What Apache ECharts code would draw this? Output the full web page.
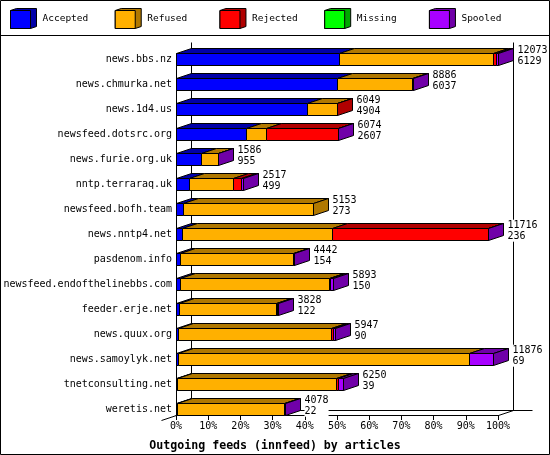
<!DOCTYPE html>
<html>
<head>
<meta charset="utf-8">
<script src="https://cdn.jsdelivr.net/npm/echarts@6/dist/echarts.min.js"></script>
<style>html,body{margin:0;padding:0;background:#fff}#c{width:550px;height:455px}</style>
</head>
<body>
<div id="c"></div>
<script>
const categories = ['news.bbs.nz','news.chmurka.net','news.1d4.us','newsfeed.dotsrc.org','news.furie.org.uk','nntp.terraraq.uk','newsfeed.bofh.team','news.nntp4.net','pasdenom.info','newsfeed.endofthelinebbs.com','feeder.erje.net','news.quux.org','news.samoylyk.net','tnetconsulting.net','weretis.net'];
const totals   = [12073, 8886, 6049, 6074, 1586, 2517, 5153, 11716, 4442, 5893, 3828, 5947, 11876, 6250, 4078];
const accepted = [6129, 6037, 4904, 2607, 955, 499, 273, 236, 154, 150, 122, 90, 69, 39, 22];
const refused  = [5767, 2823, 1120, 755, 620, 1650, 4880, 5624, 4220, 5599, 3616, 5722, 10916, 5948, 4040];
const rejected = [90, 0, 25, 2700, 0, 277, 0, 5849, 50, 40, 49, 62, 0, 100, 0];
const missing  = [0, 0, 0, 0, 0, 0, 0, 0, 0, 0, 0, 0, 0, 0, 0];
const spooled  = [87, 26, 0, 12, 11, 91, 0, 7, 18, 104, 41, 73, 891, 163, 16];
const seriesNames = ['Accepted','Refused','Rejected','Missing','Spooled'];
const xTicks = [0, 10, 20, 30, 40, 50, 60, 70, 80, 90, 100];
const titleText = 'Outgoing feeds (innfeed) by articles';

const frontColors = ['#0000ff','#ffb000','#ff0000','#00ff00','#a800ff'];
const darkColors  = ['#0000a8','#b07800','#b00000','#00a800','#7000a8'];
const FONT = 'DejaVu Sans Mono';
const DX = 15, DY = 5, HALF = 6;

const segs = [accepted, refused, rejected, missing, spooled];
const scaleMax = Math.max.apply(null, totals);
const lastIdx = categories.map((c, k) => { let l = -1; segs.forEach((s, i) => { if (s[k] > 0) l = i; }); return l; });
const segData = segs.map(() => []);
categories.forEach((c, k) => {
  let cum = 0;
  segs.forEach((s, i) => {
    const a = cum / scaleMax * 100; cum += s[k];
    const b = cum / scaleMax * 100;
    segData[i].push([k, a, b, lastIdx[k] === i ? 1 : 0, s[k]]);
  });
});
const labelData = categories.map((c, k) => [k, totals[k] / scaleMax * 100, totals[k], accepted[k]]);

function px(v) { return Math.round(v) + 0.5; }

function segRender(fc, dc) {
  return function (params, api) {
    const k = api.value(0), a = api.value(1), b = api.value(2), last = api.value(3);
    if (!(b > a)) return null;
    const p0 = api.coord([a, k]), p1 = api.coord([b, k]);
    const x0 = px(p0[0]), x1 = px(p1[0]);
    const yt = px(p0[1] - HALF), yb = px(p0[1] + HALF);
    const ch = [
      {type:'polygon', shape:{points:[[x0,yt],[x1,yt],[x1+DX,yt-DY],[x0+DX,yt-DY]]}, style:{fill:dc, stroke:'#000', lineWidth:1}},
      {type:'rect', shape:{x:x0, y:yt, width:x1-x0, height:yb-yt}, style:{fill:fc, stroke:'#000', lineWidth:1}}
    ];
    if (last) ch.push({type:'polygon', shape:{points:[[x1,yt],[x1+DX,yt-DY],[x1+DX,yb-DY],[x1,yb]]}, style:{fill:dc, stroke:'#000', lineWidth:1}});
    return {type:'group', children: ch};
  };
}

const series = seriesNames.map((n, i) => ({
  name: n, type: 'custom', z: 3, clip: false,
  encode: {x: [1, 2], y: 0},
  itemStyle: {color: frontColors[i]},
  renderItem: segRender(frontColors[i], darkColors[i]),
  data: segData[i]
}));

series.unshift({
  type: 'custom', z: 1, clip: false, silent: true,
  encode: {y: 0},
  data: [[0]],
  renderItem: function (params, api) {
    const n = categories.length;
    const pL = api.coord([xTicks[0], 0]), pR = api.coord([xTicks[xTicks.length - 1], n - 1]);
    const band = api.size([0, 1])[1];
    const xL = px(pL[0]), xR = px(pR[0]);
    const yF = px(pR[1] + HALF), yB = yF - DY;
    const yTop = px(pL[1] - band / 2) - DY;
    const yFT = px(pL[1] - HALF);
    const L = (x1, y1, x2, y2) => ({type:'line', shape:{x1, y1, x2, y2}, style:{stroke:'#000', lineWidth:1}});
    return {type:'group', children:[
      L(xL, yFT, xL, yF),
      L(xL + DX, yTop, xL + DX, yB),
      L(xR + DX, yTop, xR + DX, yB),
      L(xL + DX, yB, xR + DX + 19, yB),
      L(xR, yF, xR + DX, yB),
      L(xL, yF, xL - DX, yF + DY)
    ]};
  }
});

series.push({
  type: 'custom', z: 5, clip: false, silent: true,
  encode: {x: 1, y: 0},
  data: labelData,
  renderItem: function (params, api) {
    const k = api.value(0), e = api.value(1);
    const p = api.coord([e, k]);
    return {type:'text', style:{
      text: api.value(2) + '\n' + api.value(3),
      x: px(p[0]) + DX + 4, y: p[1] - 3.5,
      fill: '#000', font: '10px "' + FONT + '"', align: 'left', verticalAlign: 'middle',
      lineHeight: 11, backgroundColor: '#fff'
    }};
  }
});

const legendCommon = {
  top: 8, left: 10, padding: 0, orient: 'horizontal', itemWidth: 26, itemHeight: 20, itemGap: 3.6,
  itemStyle: {borderColor: '#000', borderWidth: 1},
  formatter: function (name) { return name.padEnd(12, ' '); }
};

const option = {
  animation: false,
  backgroundColor: '#fff',
  textStyle: {fontFamily: FONT},
  title: {text: titleText, left: 'center', top: 435,
    textStyle: {fontFamily: FONT, fontSize: 11.6, fontWeight: 'bold', color: '#000'}},
  legend: [
    Object.assign({}, legendCommon, {
      z: 4,
      icon: 'path://M0 2L6 0L26 0L26 18L20 20L0 20Z',
      textStyle: {fontFamily: FONT, fontSize: 9.5, color: '#000', padding: [4, 0, 0, 1]},
      data: seriesNames.map((n, i) => ({name: n, itemStyle: {color: darkColors[i]}}))
    }),
    Object.assign({}, legendCommon, {
      z: 6,
      icon: 'path://M0 0L0 0M26 20L26 20M0 2L20 2L20 20L0 20Z',
      textStyle: {fontFamily: FONT, fontSize: 9.5, color: 'rgba(0,0,0,0)', padding: [4, 0, 0, 1]},
      data: seriesNames.map((n, i) => ({name: n, itemStyle: {color: frontColors[i]}}))
    })
  ],
  grid: {left: 176, right: 52, top: 46.7, bottom: 33.3, containLabel: false},
  xAxis: {
    type: 'value', min: xTicks[0], max: xTicks[xTicks.length - 1], interval: xTicks[1] - xTicks[0],
    offset: -6.7,
    axisLine: {show: true, lineStyle: {color: '#000', width: 1}},
    axisTick: {show: true, length: 5, lineStyle: {color: '#000'}},
    splitLine: {show: false},
    axisLabel: {formatter: '{value}%', margin: 6, fontSize: 10, color: '#000', fontFamily: FONT}
  },
  yAxis: {
    type: 'category', data: categories, inverse: true,
    axisLine: {show: false}, axisTick: {show: false}, splitLine: {show: false},
    axisLabel: {margin: 4, fontSize: 10, color: '#000', fontFamily: FONT}
  },
  graphic: [
    {type: 'rect', z: 100, silent: true, shape: {x: 0.5, y: 0.5, width: 549, height: 454}, style: {fill: 'none', stroke: '#000', lineWidth: 1}},
    {type: 'line', z: 100, silent: true, shape: {x1: 0, y1: 35.5, x2: 550, y2: 35.5}, style: {stroke: '#000', lineWidth: 1}}
  ],
  series: series
};

const chart = echarts.init(document.getElementById('c'), null, {renderer: 'canvas'});
chart.setOption(option);
</script>
</body>
</html>
